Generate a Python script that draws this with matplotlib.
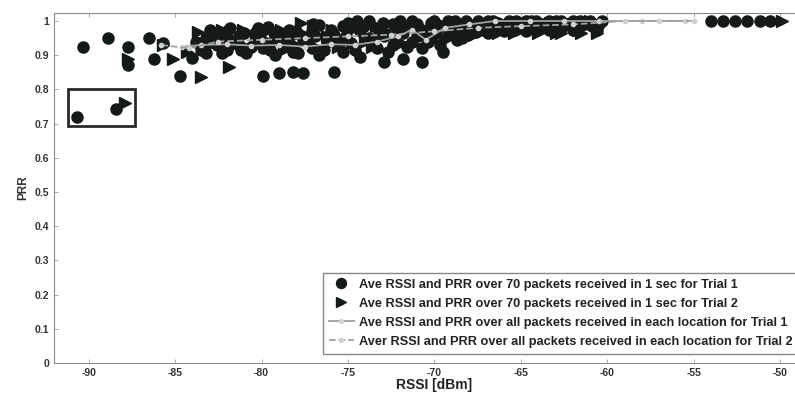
import numpy as np
import matplotlib
matplotlib.use('Agg')
import matplotlib.pyplot as plt
from matplotlib.patches import Rectangle

plt.rcParams['font.family'] = ['Liberation Sans', 'DejaVu Sans']
plt.rcParams['axes.unicode_minus'] = False

# Trial 1 : 1초 평균 (원)
rssi1 = [-90.3, -88.9, -87.7, -87.7, -86.5, -86.2, -84.7, -84.0, -85.7, -90.7, -88.4,
         -83.2, -83.2, -82.6, -82.6, -82.0, -82.0, -81.8, -81.3, -81.3, -80.9,
         -80.4, -80.4, -79.9, -79.9, -79.6, -79.2, -79.2, -79.0, -78.6, -78.6,
         -78.2, -78.2, -77.6, -77.6, -77.1, -77.1, -76.7, -76.7, -76.2, -75.8,
         -75.8, -75.3, -75.3, -74.8, -74.3, -74.3, -73.8, -73.8, -73.3, -73.3,
         -72.9, -72.9, -72.4, -72.4, -71.8, -71.8, -71.3, -71.3, -70.7, -70.7,
         -70.7, -70.2, -70.2, -69.7, -69.7, -69.2, -69.2, -68.7, -68.7, -68.2,
         -68.2, -67.6, -67.6, -66.9, -66.9, -66.3, -65.7, -65.7, -65.0, -64.4,
         -64.4, -63.7, -63.0, -63.0, -62.3, -61.6, -60.9, -60.3,
         -83.8, -83.5, -82.9, -82.3, -81.6, -81.0, -80.6, -80.1, -79.5, -78.9,
         -78.4, -77.9, -77.3, -76.9, -76.4, -76.0, -75.5, -75.1, -74.6, -74.1,
         -73.6, -73.1, -72.7, -72.1, -71.6, -71.0, -70.4, -69.9, -69.5, -68.9,
         -68.4, -67.9, -67.2, -66.6, -66.0, -65.3, -64.7, -64.1, -63.4, -62.7,
         -62.0, -61.3, -60.6,
         -66.6, -65.3, -64.7, -64.1, -63.4, -62.7, -62.0, -61.0, -60.5, -71.0,
         -72.0, -73.0, -74.5, -75.0, -70.0, -67.5, -68.8,
         -83.0, -82.0, -81.2, -80.2, -79.3, -78.0, -77.0,
         -54.0, -53.3, -52.6, -51.9, -51.2, -50.6]
prr1 = [0.924, 0.950, 0.924, 0.872, 0.950, 0.889, 0.839, 0.892, 0.935, 0.719, 0.743,
        0.905, 0.950, 0.930, 0.960, 0.915, 0.945, 0.980, 0.930, 0.955, 0.906,
        0.940, 0.965, 0.839, 0.920, 0.983, 0.900, 0.950, 0.848, 0.930, 0.965,
        0.851, 0.910, 0.848, 0.945, 0.920, 0.970, 0.988, 0.900, 0.940, 0.851,
        0.960, 0.910, 0.985, 0.935, 0.895, 0.970, 0.950, 1.000, 0.920, 0.980,
        0.880, 0.955, 0.930, 0.990, 0.890, 0.965, 0.940, 1.000, 0.880, 0.920,
        0.975, 0.950, 0.995, 0.930, 0.985, 0.960, 1.000, 0.945, 0.990, 0.970,
        1.000, 0.968, 0.990, 0.965, 1.000, 0.980, 0.975, 1.000, 0.990, 0.980,
        1.000, 0.990, 0.985, 1.000, 0.990, 1.000, 0.985, 1.000,
        0.940, 0.915, 0.960, 0.905, 0.940, 0.965, 0.925, 0.950, 0.915, 0.940,
        0.975, 0.905, 0.935, 0.955, 0.915, 0.975, 0.935, 0.955, 0.915, 0.985,
        0.940, 0.960, 0.910, 0.975, 0.925, 0.955, 0.940, 0.965, 0.910, 0.975,
        0.950, 0.985, 0.975, 0.990, 0.970, 0.985, 0.970, 0.990, 0.975, 0.980,
        0.975, 0.990, 0.975,
        1.000, 1.000, 1.000, 1.000, 1.000, 1.000, 1.000, 1.000, 0.990, 0.990,
        1.000, 0.995, 1.000, 0.995, 1.000, 1.000, 1.000,
        0.975, 0.970, 0.915, 0.980, 0.965, 0.970, 0.990,
        1.000, 1.000, 1.000, 1.000, 1.000, 1.000]

# Trial 2 : 1초 평균 (삼각형)
rssi2 = [-87.7, -85.7, -85.1, -83.5, -81.9, -77.7, -87.9,
         -83.7, -83.0, -82.3, -81.5, -80.7, -80.1, -79.4, -78.9, -78.0, -77.3,
         -76.5, -75.9, -75.0, -74.5, -73.6, -73.0, -72.2, -71.6, -70.9, -70.0,
         -69.4, -68.9, -68.0, -67.3, -66.6, -66.0, -65.4, -64.7, -64.0, -63.3,
         -62.7, -62.0, -61.5, -61.0, -60.6,
         -84.3, -82.7, -81.9, -81.1, -80.3, -79.7, -78.7, -78.3, -77.0, -76.2,
         -75.6, -74.9, -74.0, -73.4, -72.6, -71.9, -71.1, -70.5, -69.7, -69.0,
         -68.4, -67.7, -66.9, -66.3, -65.7, -65.0, -64.3, -63.6, -63.0, -62.3,
         -61.7, -49.9]
prr2 = [0.890, 0.930, 0.890, 0.836, 0.866, 0.994, 0.760,
        0.968, 0.930, 0.975, 0.945, 0.920, 0.960, 0.935, 0.975, 0.930, 0.955,
        0.915, 0.975, 0.945, 0.990, 0.925, 0.965, 0.945, 0.985, 0.955, 0.975,
        0.945, 0.990, 0.960, 0.985, 0.975, 0.995, 0.965, 0.990, 0.965, 0.995,
        0.965, 0.990, 0.965, 1.000, 0.965,
        0.910, 0.945, 0.920, 0.975, 0.940, 0.970, 0.915, 0.950, 0.985, 0.955,
        0.925, 0.970, 0.940, 0.985, 0.965, 0.935, 0.990, 0.960, 0.995, 0.965,
        0.975, 0.960, 0.990, 0.965, 0.985, 0.975, 0.975, 0.980, 0.965, 0.985,
        0.975, 1.000]

# 위치 별 전체 평균
loc_rssi1 = [-84.6, -83.5, -82.0, -80.6, -79.0, -77.5, -76.0, -74.6, -73.3, -72.1,
             -71.3, -70.5, -69.4, -68.0, -66.5, -64.5, -62.5, -60.5, -58.0, -55.5]
loc_prr1 = [0.925, 0.930, 0.932, 0.928, 0.930, 0.925, 0.932, 0.930, 0.940, 0.955,
            0.975, 0.945, 0.980, 0.990, 1.000, 1.000, 1.000, 1.000, 1.000, 1.000]
loc_rssi2 = [-85.8, -84.2, -82.5, -80.0, -77.5, -75.0, -72.5, -70.0, -67.5, -65.0,
             -62.0, -59.0, -57.0, -55.0]
loc_prr2 = [0.930, 0.920, 0.940, 0.945, 0.950, 0.955, 0.960, 0.970, 0.980, 0.985,
            0.990, 1.000, 1.000, 1.000]

labels = ['Ave RSSI and PRR over 70 packets received in 1 sec for Trial 1',
          'Ave RSSI and PRR over 70 packets received in 1 sec for Trial 2',
          'Ave RSSI and PRR over all packets received in each location for Trial 1',
          'Aver RSSI and PRR over all packets received in each location for Trial 2']

fig = plt.figure(figsize=(7.95, 3.98), dpi=100)
ax = fig.add_axes([0.068, 0.088, 0.957, 0.879])

ax.plot(rssi1, prr1, 'o', color='#141a16', ms=8, label=labels[0])
ax.plot(rssi2, prr2, '>', color='#141a16', ms=8, label=labels[1])
ax.plot(loc_rssi1, loc_prr1, '-', color='#a0a0a0', lw=1.3, marker='o', ms=3,
        mfc='#d0d0d0', mec='#d0d0d0', label=labels[2])
ax.plot(loc_rssi2, loc_prr2, '--', color='#a0a0a0', lw=1.3, marker='o', ms=3,
        mfc='#d0d0d0', mec='#d0d0d0', label=labels[3])

# 박스 표시
ax.add_patch(Rectangle((-91.2, 0.693), 3.9, 0.108, fill=False, ec='#2a2a2a', lw=2))

ax.set_xlim(-92, -48)
ax.set_ylim(0, 1.023)
ax.set_xticks([-90, -85, -80, -75, -70, -65, -60, -55, -50])
ax.set_yticks([0, 0.1, 0.2, 0.3, 0.4, 0.5, 0.6, 0.7, 0.8, 0.9, 1])
ax.set_yticklabels(['0', '0.1', '0.2', '0.3', '0.4', '0.5', '0.6', '0.7', '0.8', '0.9', '1'])
ax.tick_params(direction='in', length=3, width=0.6, top=True, right=True,
               labelsize=7.5, labelcolor='#333333', color='#999999')
for lab in ax.get_xticklabels() + ax.get_yticklabels():
    lab.set_fontweight('bold')
for s in ax.spines.values():
    s.set_color('#8a8a8a')
    s.set_linewidth(0.8)

ax.set_xlabel('RSSI [dBm]', fontsize=10, fontweight='bold', color='#222222', labelpad=0)
ax.set_ylabel('PRR', fontsize=8.5, fontweight='bold', color='#333333', labelpad=4)

leg = ax.legend(loc='upper left', bbox_to_anchor=(0.406, 0.314), bbox_transform=fig.transFigure,
                borderaxespad=0, prop={'weight': 'bold', 'size': 9.2},
                labelspacing=0.55, handlelength=2.0, handletextpad=0.4, fancybox=False,
                framealpha=1, edgecolor='#888888', numpoints=1, markerscale=0.9,
                borderpad=0.45)
for t in leg.get_texts():
    t.set_color('#222222')

fig.savefig('out.png', dpi=100)
